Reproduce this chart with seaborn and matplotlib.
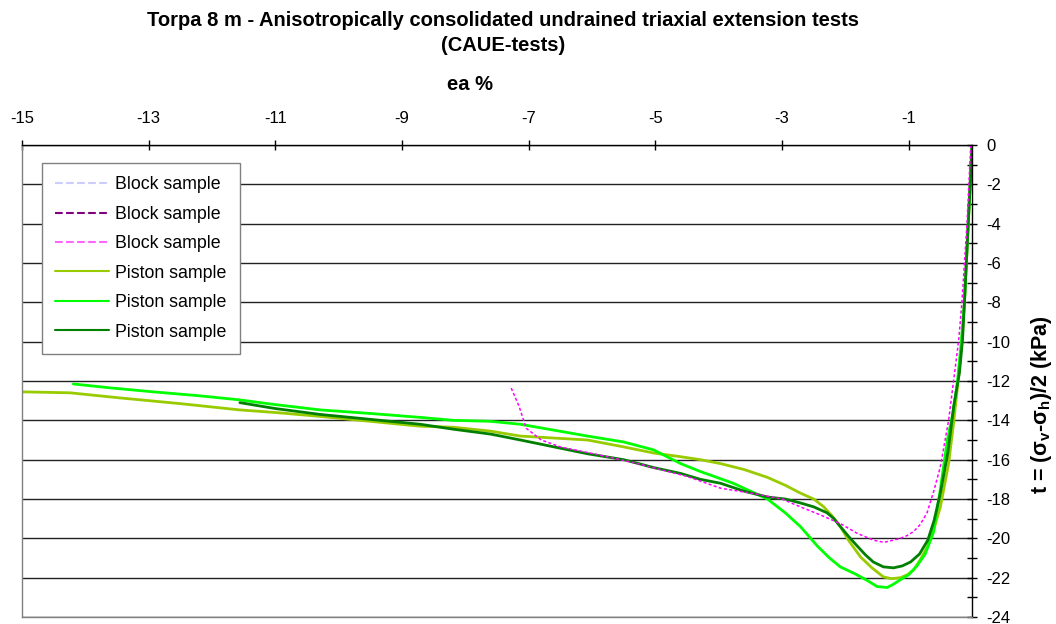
import numpy as np
import pandas as pd
import matplotlib
matplotlib.use('Agg')
import matplotlib.pyplot as plt
import seaborn as sns
from matplotlib.ticker import MultipleLocator
from matplotlib.lines import Line2D

# Data (ea % vs t in kPa)
piston1_ea = [0, -0.03, -0.06, -0.09, -0.12, -0.16, -0.22, -0.29, -0.37, -0.5, -0.6, -0.7,
              -0.82, -0.92, -1.02, -1.13, -1.27, -1.40, -1.58, -1.76, -1.95, -2.08, -2.2,
              -2.34, -2.5, -2.71, -2.95, -3.23, -3.6, -3.97, -4.29, -4.6, -5.03, -5.5,
              -6.07, -6.6, -7.13, -7.6, -8.19, -8.71, -9.5, -10.29, -11.0, -11.56, -12.5,
              -13.45, -14.24, -15.0]
piston1_t = [0, -2, -4, -6, -8, -10, -12, -14.1, -16.2, -18.4, -19.5, -20.4,
             -21.1, -21.6, -21.85, -22.0, -22.05, -21.96, -21.5, -20.95, -20.1, -19.4, -18.9,
             -18.4, -18.0, -17.7, -17.3, -16.9, -16.5, -16.2, -16.0, -15.85, -15.66, -15.35,
             -15.0, -14.9, -14.8, -14.55, -14.35, -14.3, -14.05, -13.8, -13.6, -13.47, -13.15,
             -12.86, -12.6, -12.55]

piston2_ea = [0, -0.03, -0.06, -0.09, -0.12, -0.17, -0.23, -0.30, -0.39, -0.5, -0.61, -0.74,
              -0.87, -1.0, -1.13, -1.25, -1.34, -1.5, -1.65, -1.85, -2.08, -2.25, -2.44,
              -2.71, -2.95, -3.23, -3.5, -3.77, -4.29, -4.6, -5.03, -5.5, -6.07, -6.6,
              -7.13, -7.6, -8.19, -8.71, -9.5, -10.29, -11.0, -11.56, -12.2, -12.93, -13.6,
              -14.19]
piston2_t = [0, -2, -4, -6, -8, -10, -12, -13.6, -15.0, -17.5, -19.7, -20.8,
             -21.4, -21.85, -22.1, -22.35, -22.5, -22.45, -22.15, -21.8, -21.45, -21.0, -20.4,
             -19.4, -18.7, -18.0, -17.6, -17.2, -16.6, -16.2, -15.5, -15.1, -14.8, -14.5,
             -14.2, -14.05, -14.0, -13.85, -13.65, -13.47, -13.2, -12.96, -12.75, -12.55, -12.35,
             -12.15]

piston3_ea = [0, -0.03, -0.06, -0.09, -0.12, -0.15, -0.2, -0.29, -0.38, -0.5, -0.6, -0.7,
              -0.83, -0.97, -1.1, -1.24, -1.4, -1.56, -1.68, -1.81, -1.95, -2.08, -2.18,
              -2.29, -2.5, -2.71, -2.95, -3.23, -3.6, -3.97, -4.29, -4.6, -5.03, -5.5,
              -6.07, -6.6, -7.13, -7.6, -8.19, -8.71, -9.5, -10.29, -11.0, -11.56]
piston3_t = [0, -2, -4, -6, -8, -9.9, -11.6, -13.3, -15.6, -17.7, -19.1, -20.1,
             -20.8, -21.2, -21.4, -21.5, -21.45, -21.2, -20.85, -20.4, -19.9, -19.4, -19.0,
             -18.7, -18.4, -18.2, -18.0, -17.9, -17.6, -17.2, -17.0, -16.7, -16.4, -16.0,
             -15.7, -15.35, -15.0, -14.7, -14.45, -14.2, -13.95, -13.7, -13.4, -13.1]

block3_ea = [-0.02, -0.05, -0.08, -0.12, -0.16, -0.21, -0.29, -0.37, -0.50, -0.60, -0.71,
             -0.82, -0.92, -1.02, -1.13, -1.25, -1.39, -1.55, -1.81, -2.08, -2.4, -2.71,
             -3.0, -3.4, -3.97, -4.5, -5.28, -5.9, -6.5, -6.8, -7.04, -7.15, -7.29]
block3_t = [0, -2, -4, -6, -8, -9.9, -11.95, -14.0, -16.35, -17.55, -18.7,
            -19.3, -19.65, -19.85, -20.0, -20.1, -20.2, -20.1, -19.75, -19.25, -18.8, -18.4,
            -18.0, -17.75, -17.45, -16.85, -16.2, -15.75, -15.35, -15.0, -14.4, -13.3, -12.25]

x_ticks = [-15, -13, -11, -9, -7, -5, -3, -1]
y_ticks = list(range(-24, 1, 2))

sns.set_style('white')
plt.rcParams['font.family'] = ['Liberation Sans', 'DejaVu Sans']
plt.rcParams['text.color'] = 'black'
plt.rcParams['axes.labelcolor'] = 'black'
plt.rcParams['axes.unicode_minus'] = False
plt.rcParams['mathtext.fontset'] = 'custom'
plt.rcParams['mathtext.rm'] = 'Liberation Sans:bold'
plt.rcParams['mathtext.it'] = 'Liberation Sans:bold'
plt.rcParams['mathtext.bf'] = 'Liberation Sans:bold'

fig, ax = plt.subplots(figsize=(10.56, 6.24), dpi=100)
fig.subplots_adjust(left=0.0208, right=0.9205, bottom=0.0112, top=0.7676)

series = [
    (piston1_ea, piston1_t, '#99CC00', '-', 2.0),
    (piston2_ea, piston2_t, '#00FF00', '-', 2.0),
    (piston3_ea, piston3_t, '#008000', '-', 2.0),
    (block3_ea, block3_t, '#FF00FF', (0, (2, 1.5)), 1.1),
]
for xs, ys, col, ls, lw in series:
    df = pd.DataFrame({'ea': xs, 't': ys})
    sns.lineplot(data=df, x='ea', y='t', sort=False, estimator=None, color=col,
                 linestyle=ls, linewidth=lw, ax=ax)

ax.set_xlim(-15, 0)
ax.set_ylim(-24, 0)

# x axis on top, y axis on right
ax.xaxis.tick_top()
ax.xaxis.set_label_position('top')
ax.yaxis.tick_right()
ax.yaxis.set_label_position('right')
ax.set_xticks(x_ticks)
ax.set_xticklabels([str(v) for v in x_ticks])
ax.set_yticks(y_ticks)
ax.set_yticklabels([str(v) for v in y_ticks])
ax.yaxis.set_minor_locator(MultipleLocator(1))

ax.tick_params(axis='x', which='major', direction='inout', length=7, width=1,
               pad=10, labelsize=12, colors='black')
ax.tick_params(axis='y', which='major', direction='inout', length=7, width=1,
               pad=6.5, labelsize=12, colors='black')
ax.tick_params(axis='y', which='minor', direction='inout', length=7, width=1, colors='black')

ax.grid(axis='y', which='major', color='#222222', linewidth=1)
ax.grid(axis='x', visible=False)

for side in ['top', 'right']:
    ax.spines[side].set_color('black')
    ax.spines[side].set_linewidth(1)
for side in ['left', 'bottom']:
    ax.spines[side].set_color('#808080')
    ax.spines[side].set_linewidth(1)

ax.set_xlabel('ea %', fontsize=14.5, fontweight='bold')
ax.xaxis.set_label_coords(0.4716, 1.129)
ax.xaxis.label.set_va('center')

ax.set_ylabel(r't = ($\sigma_\mathrm{v}$-$\sigma_\mathrm{h}$)/2 (kPa)', fontsize=15.5,
              fontweight='bold', rotation=90)
ax.yaxis.set_label_coords(1.0726, 0.45)
ax.yaxis.label.set_va('center')
ax.yaxis.label.set_ha('center')

fig.text(0.476, 0.947, 'Torpa 8 m - Anisotropically consolidated undrained triaxial extension tests\n(CAUE-tests)',
         ha='center', va='center', fontsize=14.5, fontweight='bold', linespacing=1.45)

handles = [
    Line2D([], [], color='#CCCCFF', linestyle='--', linewidth=1.5),
    Line2D([], [], color='#800080', linestyle='--', linewidth=1.5),
    Line2D([], [], color='#FF66FF', linestyle='--', linewidth=1.5),
    Line2D([], [], color='#99CC00', linewidth=1.5),
    Line2D([], [], color='#00FF00', linewidth=1.5),
    Line2D([], [], color='#008000', linewidth=1.5),
]
labels = ['Block sample'] * 3 + ['Piston sample'] * 3
leg = ax.legend(handles, labels, loc='upper left', bbox_to_anchor=(0.021, 0.962),
                borderaxespad=0, fontsize=12.8, frameon=True, fancybox=False,
                edgecolor='#808080', framealpha=1, labelspacing=0.7, handlelength=3.0,
                handletextpad=0.35, borderpad=0.75)
leg.get_frame().set_linewidth(1.0)

plt.savefig('out.png', dpi=100)
